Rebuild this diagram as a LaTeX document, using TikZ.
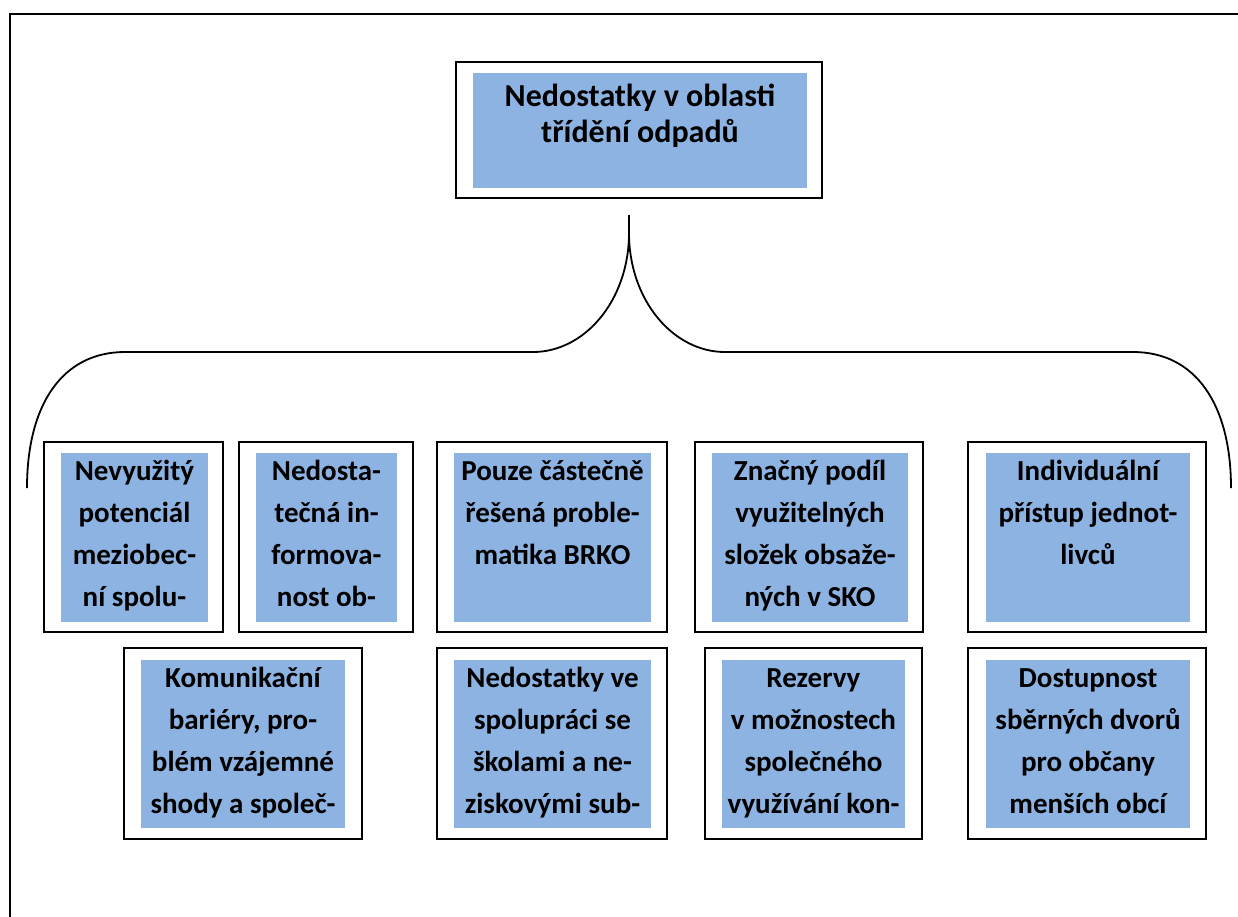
\documentclass[tikz,border=0pt]{standalone}
\usepackage{fontspec}
\setmainfont{Carlito}
\usetikzlibrary{fit}
\definecolor{boxblue}{RGB}{141,179,226}
\tikzset{
  outerbox/.style={draw=black, line width=1.8pt, fill=white, inner sep=0pt},
  innerbox/.style={fill=boxblue, draw=none, inner sep=0pt},
  rowtext/.style={anchor=north, inner sep=0pt, align=center, font=\bfseries\fontsize{29}{42}\selectfont},
  toptext/.style={anchor=north, inner sep=0pt, align=center, font=\bfseries\fontsize{32}{36}\selectfont},
  frameline/.style={line width=2.6pt, line cap=rect},
  braceline/.style={line width=1.8pt}
}
\newcommand\panel[9]{%
  \node[outerbox, fit={(#2,#3) (#4,#5)}] (#1) {};
  \node[innerbox, fit={(#6,#7) (#8,#9)}] (#1i) {};
}
\begin{document}
\begin{tikzpicture}[x=1pt,y=-1pt]
\useasboundingbox (0,0) rectangle (1238,916);
% frame
\draw[frameline] (10,916) -- (10,14) -- (1238,14);
% top box
\panel{top}{456}{62}{822}{198}{473}{73}{807}{188}
\node[toptext] (toptx) at (640,81) {\strut Nedostatky v oblasti\\třídění odpadů};
% brace
\coordinate (tip) at (629,215);
\coordinate (tipb) at (629,233);
\coordinate (lm) at (533,352);
\coordinate (rm) at (725,352);
\coordinate (ll) at (125,352);
\coordinate (rr) at (1133,352);
\coordinate (lend) at (27,488);
\coordinate (rend) at (1231,488);
\draw[braceline] (lend) .. controls (27,405) and (62,352) .. (ll) -- (lm)
  .. controls (585,352) and (629,300) .. (tipb) -- (tip);
\draw[braceline] (rend) .. controls (1231,405) and (1196,352) .. (rr) -- (rm)
  .. controls (673,352) and (629,300) .. (tipb);
% row 1
\panel{a}{44}{442}{223}{632}{61}{453}{208}{622}
\node[rowtext] (atx) at (134.5,451) {\strut Nevyužitý\\potenciál\\meziobec-\\ní spolu-};
\panel{b}{239}{442}{413}{632}{256}{453}{397}{622}
\node[rowtext] (btx) at (326.5,451) {\strut Nedosta-\\tečná in-\\formova-\\nost ob-};
\panel{c}{437}{442}{667}{632}{454}{453}{651}{622}
\node[rowtext] (ctx) at (552.5,451) {\strut Pouze částečně\\řešená proble-\\matika BRKO};
\panel{d}{695}{442}{923}{632}{712}{453}{908}{622}
\node[rowtext] (dtx) at (810,451) {\strut Značný podíl\\využitelných\\složek obsaže-\\ných v SKO};
\panel{e}{968}{442}{1206}{632}{986}{453}{1190}{622}
\node[rowtext] (etx) at (1088,451) {\strut Individuální\\přístup jednot-\\livců};
% row 2
\panel{f}{124}{648}{362}{839}{141}{660}{345}{828}
\node[rowtext] (ftx) at (243,658) {\strut Komunikační\\bariéry, pro-\\blém vzájemné\\shody a společ-};
\panel{g}{437}{648}{667}{839}{454}{660}{651}{828}
\node[rowtext] (gtx) at (552.5,658) {\strut Nedostatky ve\\spolupráci se\\školami a ne-\\ziskovými sub-};
\panel{h}{705}{648}{922}{839}{722}{660}{905}{828}
\node[rowtext] (htx) at (813.5,658) {\strut Rezervy\\v možnostech\\společného\\využívání kon-};
\panel{i}{968}{648}{1206}{839}{986}{660}{1190}{828}
\node[rowtext] (itx) at (1088,658) {\strut Dostupnost\\sběrných dvorů\\pro občany\\menších obcí};
\end{tikzpicture}
\end{document}
